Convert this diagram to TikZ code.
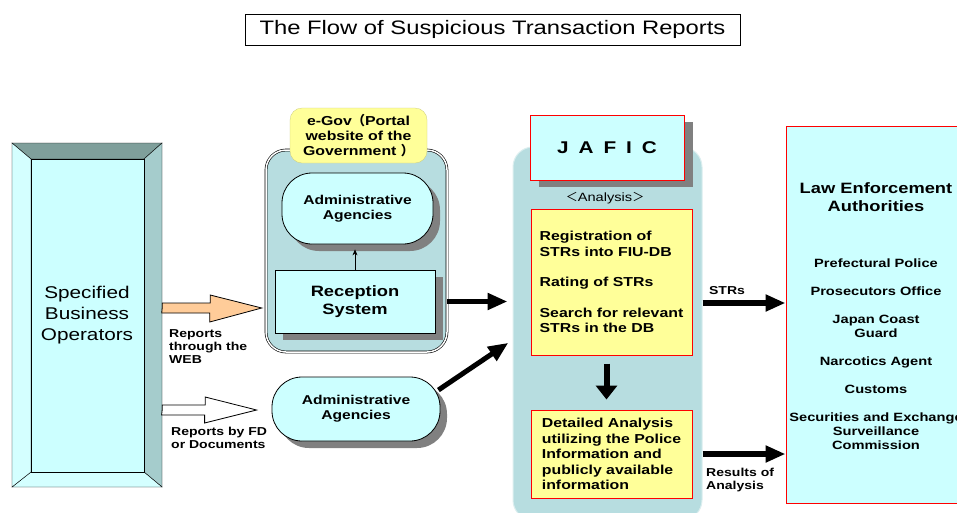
\documentclass[tikz,border=0pt]{standalone}
\usepackage{fontspec}
\setmainfont{Liberation Sans}[FakeStretch=1.22]
\newfontfamily\cjk{Noto Sans CJK JP}
\usetikzlibrary{arrows.meta,shadows}

\definecolor{paleblue}{HTML}{CCFFFF}
\definecolor{panelblue}{HTML}{B7DDE0}
\definecolor{paleyellow}{HTML}{FFFF99}
\definecolor{peach}{HTML}{FFCC99}
\definecolor{bevdark}{HTML}{7F9F9B}
\definecolor{bevmid}{HTML}{A5CCCC}
\definecolor{bevlight}{HTML}{D4FFFF}

\tikzset{
  agency/.style={draw, fill=paleblue, rounded corners=30pt, line width=0.8pt,
    drop shadow={shadow xshift=7pt, shadow yshift=-7pt, fill=gray, opacity=1},
    align=center, font=\bfseries\fontsize{12.8}{15}\selectfont},
  redbox/.style={draw=red, line width=1pt, fill=paleyellow, align=left,
    font=\bfseries\fontsize{13}{15.5}\selectfont},
  lbl/.style={inner sep=0pt, align=left, font=\bfseries\fontsize{11.5}{13}\selectfont},
  fat/.style={line width=5pt, -{Triangle[length=20pt,width=16pt]}},
}

\begin{document}
\begin{tikzpicture}[x=1pt, y=-1pt]
    \clip (0,0) rectangle (957,512);
    \fill[white] (0,0) rectangle (957,512);

    % title
    \node[draw, line width=0.8pt, minimum width=495pt, minimum height=31pt,
          font=\fontsize{19.5}{22}\selectfont] (title) at (492.5,29.5)
          {The Flow of Suspicious Transaction Reports};

    % Specified Business Operators
    \coordinate (A) at (12,143);
    \coordinate (B) at (162,143);
    \coordinate (C) at (162,487);
    \coordinate (D) at (12,487);
    \coordinate (E) at (31,159);
    \coordinate (F) at (144,159);
    \coordinate (G) at (144,472);
    \coordinate (H) at (31,472);
    \filldraw[fill=bevdark] (A) -- (B) -- (F) -- (E) -- cycle;
    \filldraw[fill=bevmid] (B) -- (C) -- (G) -- (F) -- cycle;
    \filldraw[fill=bevlight] (C) -- (D) -- (H) -- (G) -- cycle;
    \filldraw[fill=bevlight] (D) -- (A) -- (E) -- (H) -- cycle;
    \filldraw[fill=paleblue] (E) -- (F) -- (G) -- (H) -- cycle;
    \node[minimum width=150pt, minimum height=344pt, inner sep=0pt, align=center,
          font=\fontsize{17}{21}\selectfont] (sbo) at (87,315)
          {Specified\\Business\\Operators};

    % e-Gov
    \node[draw, double, double distance=1.5pt, line width=0.6pt, fill=panelblue,
          rounded corners=20pt, minimum width=181pt, minimum height=202pt] (egov) at (356.5,251) {};
    \node[fill=paleyellow, draw=paleyellow!80!black, line width=0.3pt, rounded corners=12pt,
          minimum width=137pt, minimum height=55pt, align=center,
          font=\bfseries\fontsize{13}{15}\selectfont] (egovlabel) at (358.5,135.5)
          {e-Gov{\cjk（}Portal\\website of the\\Government {\cjk ）}};
    \node[agency, minimum width=151pt, minimum height=71pt] (agencytop) at (357.5,208.5)
          {Administrative\\Agencies};
    \node[draw, fill=paleblue, line width=0.8pt, minimum width=160pt, minimum height=63pt,
          drop shadow={shadow xshift=8pt, shadow yshift=-7pt, fill=gray, opacity=1},
          align=center, font=\bfseries\fontsize{15}{18}\selectfont] (reception) at (355,301.5)
          {Reception\\System};
    \draw[line width=0.6pt, -{Stealth[length=6pt,width=5pt]}, shorten >=5pt]
          (reception.north) -- (reception.north |- agencytop.south);

    \node[agency, minimum width=168pt, minimum height=64pt] (agencylow) at (356,409)
          {Administrative\\Agencies};

    % block arrows
    \coordinate (webtail) at (sbo.east |- 0,308);
    \coordinate (webtip) at ([xshift=-4pt]egov.west |- webtail);
    \filldraw[fill=peach, line width=0.8pt] (webtail) -- ++(0,-5) -- ++(48,0) -- ++(0,-8)
          -- (webtip) -- ++(-52,14) -- ++(0,-9) -- ++(-48,0) -- cycle;
    \coordinate (fdtail) at (sbo.east |- 0,410);
    \coordinate (fdtip) at ([xshift=-15pt]agencylow.west |- fdtail);
    \filldraw[fill=white, line width=0.8pt] (fdtail) -- ++(0,-5) -- ++(43,0) -- ++(0,-8)
          -- (fdtip) -- ++(-52,13) -- ++(0,-8) -- ++(-43,0) -- cycle;
    \node[lbl, anchor=north west] (weblabel) at (169,329) {Reports\\through the\\WEB};
    \node[lbl, anchor=north west] (fdlabel) at (171,427) {Reports by FD\\or Documents};

    % JAFIC
    \node[fill=panelblue, draw=panelblue!50!white, line width=1pt, rounded corners=20pt,
          minimum width=189pt, minimum height=373pt] (panel) at (607.5,333.5) {};
    \node[draw=red, line width=1pt, fill=paleblue, minimum width=154pt, minimum height=65pt,
          drop shadow={shadow xshift=9pt, shadow yshift=-7pt, fill=gray, opacity=1},
          font=\bfseries\fontsize{17}{20}\selectfont] (jafic) at (607,147.5)
          {J\hskip10pt A\hskip10pt F\hskip10pt I\hskip10pt C};
    \node[font=\fontsize{12}{14}\selectfont] (analysis) at (605,198)
          {{\cjk ＜}Analysis{\cjk ＞}};
    \node[redbox, minimum width=161pt, minimum height=146pt] (search) at (611.5,282)
          {Registration of\\STRs into FIU-DB\\[15pt]Rating of STRs\\[15pt]Search for relevant\\STRs in the DB};
    \node[redbox, minimum width=161pt, minimum height=88pt] (detail) at (611.5,454)
          {Detailed Analysis\\utilizing the Police\\Information and\\publicly available\\information};
    \draw[line width=6pt, -{Triangle[length=14pt,width=21pt]}, shorten <=8pt, shorten >=10pt]
          ([xshift=-5pt]search.south) -- ([xshift=-5pt]detail.north);

    \draw[fat, shorten >=5pt] (egov.east |- reception) -- (panel.west |- reception);
    \draw[fat, shorten >=5pt] ([xshift=-2pt,yshift=19pt]agencylow.east) -- (panel.west |- 0,340);

    % Law Enforcement Authorities
    \node[draw=red, line width=1pt, fill=paleblue, minimum width=180pt, minimum height=377pt]
          (law) at (876,314.5) {};
    \node[align=center, font=\bfseries\fontsize{15}{18}\selectfont] (lawtitle) at (876,197)
          {Law Enforcement\\Authorities};
    \node[align=center, font=\bfseries\fontsize{12}{14}\selectfont] (lawlist) at (876,354)
          {Prefectural Police\\[14pt]Prosecutors Office\\[14pt]Japan Coast\\Guard\\[14pt]Narcotics Agent\\[14pt]Customs\\[14pt]Securities and Exchange\\Surveillance\\Commission};

    \draw[fat, line width=6pt] (panel.east |- 0,303) -- (law.west |- 0,303);
    \draw[fat, line width=6pt] (panel.east |- detail) -- (law.west |- detail);
    \node[lbl] (strslabel) at (727,291) {STRs};
    \node[lbl, anchor=west] (resultslabel) at (706,480) {Results of\\Analysis};
\end{tikzpicture}
\end{document}
